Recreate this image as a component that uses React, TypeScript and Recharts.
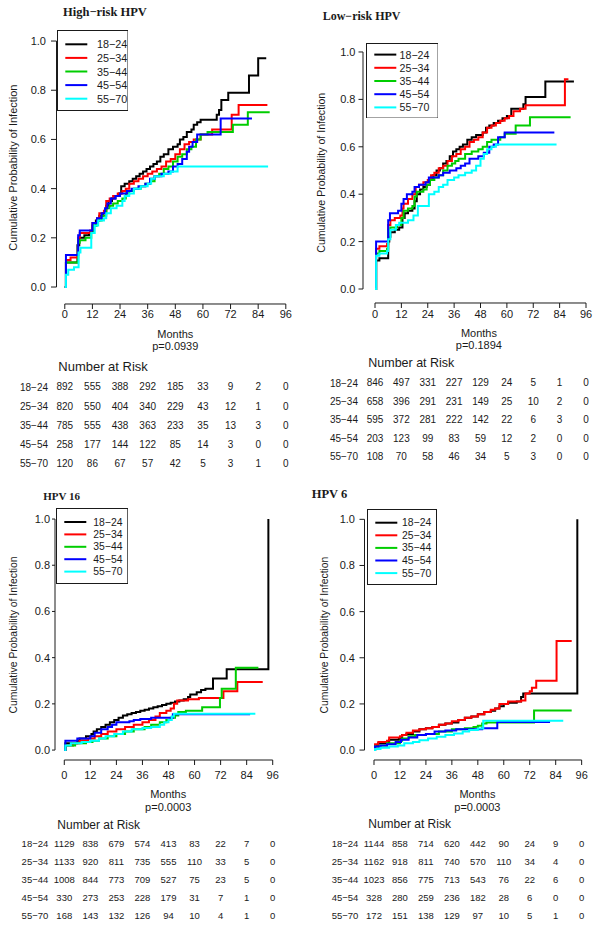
import { Legend, Line, LineChart, ReferenceLine, XAxis, YAxis } from "recharts";

type Pt = [number, number];

const ink = "#1a1a1a";
const ageGroups = ["18−24", "25−34", "35−44", "45−54", "55−70"];
const groupColors = ["#000000", "#ff0000", "#00cd00", "#0000ff", "#00ffff"];
const monthTicks = [0, 12, 24, 36, 48, 60, 72, 84, 96];
const probTicks = [0, 0.2, 0.4, 0.6, 0.8, 1];

// High-risk HPV
const highRisk1824: Pt[] = [[0, 0], [0.5, 0.1], [5.5, 0.17], [6.3, 0.2], [8.5, 0.21], [10.5, 0.22], [12, 0.25], [13.5, 0.27], [15, 0.29], [16.5, 0.3], [18, 0.33], [19, 0.35], [20.5, 0.36], [22, 0.37], [23.5, 0.38], [24.5, 0.41], [26, 0.42], [28, 0.43], [29.5, 0.44], [31, 0.45], [32.5, 0.46], [34, 0.47], [35.5, 0.48], [37, 0.49], [38.5, 0.5], [40, 0.51], [41.5, 0.53], [43, 0.54], [45, 0.56], [47, 0.57], [49, 0.58], [50, 0.6], [51.5, 0.61], [53, 0.63], [55, 0.64], [56, 0.66], [57.5, 0.67], [59, 0.68], [66, 0.7], [67, 0.72], [68, 0.76], [71, 0.79], [80, 0.86], [84, 0.93], [87.5, 0.93]];
const highRisk2534: Pt[] = [[0, 0], [0.5, 0.11], [2.5, 0.12], [5.8, 0.2], [6.5, 0.22], [11, 0.23], [12, 0.26], [14, 0.28], [15, 0.3], [17, 0.31], [18, 0.35], [19.5, 0.36], [21, 0.37], [23, 0.38], [25, 0.39], [26.5, 0.4], [28, 0.42], [30, 0.43], [32, 0.44], [34, 0.45], [36, 0.46], [38, 0.47], [40, 0.48], [42, 0.49], [44, 0.51], [46, 0.52], [48, 0.54], [50, 0.56], [52, 0.58], [54, 0.59], [56, 0.6], [59, 0.62], [64, 0.64], [72.5, 0.7], [75.5, 0.74], [88, 0.74]];
const highRisk3544: Pt[] = [[0, 0], [0.5, 0.1], [5.8, 0.18], [6.5, 0.19], [9, 0.2], [11.5, 0.22], [12.5, 0.25], [14, 0.27], [16, 0.29], [18, 0.32], [19.5, 0.33], [21, 0.34], [23, 0.35], [25, 0.36], [26.5, 0.38], [28, 0.39], [30, 0.4], [33, 0.41], [35, 0.42], [37, 0.43], [39, 0.45], [41, 0.46], [43, 0.48], [45, 0.49], [47, 0.51], [49, 0.53], [51, 0.54], [53, 0.56], [55, 0.57], [57, 0.6], [59, 0.62], [62, 0.63], [73, 0.66], [79.5, 0.71], [89, 0.71]];
const highRisk4554: Pt[] = [[0, 0], [0.5, 0.13], [5.8, 0.21], [6.5, 0.23], [11.5, 0.23], [12, 0.26], [14, 0.28], [16, 0.3], [17.5, 0.32], [18.5, 0.34], [20, 0.36], [22, 0.37], [24, 0.38], [27, 0.39], [29, 0.4], [32, 0.41], [35, 0.42], [37, 0.44], [39, 0.45], [42, 0.46], [45, 0.47], [47, 0.49], [49, 0.5], [51, 0.52], [53, 0.55], [54, 0.57], [55.5, 0.59], [57.5, 0.62], [67.7, 0.685], [81.3, 0.685]];
const highRisk5570: Pt[] = [[0, 0], [0.5, 0.05], [1.5, 0.07], [4, 0.08], [6, 0.14], [6.8, 0.16], [11.5, 0.22], [13, 0.25], [14.5, 0.27], [17, 0.28], [18, 0.3], [20, 0.32], [22.5, 0.33], [25, 0.35], [26, 0.37], [28, 0.38], [30, 0.4], [33, 0.41], [36, 0.42], [37.5, 0.44], [39, 0.45], [43, 0.46], [46, 0.47], [49, 0.49], [88.3, 0.49]];
const highRiskAtRisk = [
  [892, 555, 388, 292, 185, 33, 9, 2, 0],
  [820, 550, 404, 340, 229, 43, 12, 1, 0],
  [785, 555, 438, 363, 233, 35, 13, 3, 0],
  [258, 177, 144, 122, 85, 14, 3, 0, 0],
  [120, 86, 67, 57, 42, 5, 3, 1, 0],
];

// Low-risk HPV
const lowRisk1824: Pt[] = [[0, 0], [0.5, 0.12], [2, 0.13], [6, 0.2], [6.5, 0.22], [7, 0.24], [9, 0.25], [11, 0.26], [12.5, 0.3], [13.5, 0.32], [15, 0.33], [17, 0.34], [18, 0.37], [19, 0.4], [20.5, 0.42], [22, 0.43], [23.5, 0.44], [25, 0.46], [26.5, 0.48], [28, 0.5], [29.5, 0.51], [31, 0.53], [32.5, 0.54], [34, 0.56], [35.5, 0.58], [37, 0.59], [38.5, 0.6], [40, 0.61], [42, 0.63], [44, 0.64], [46, 0.65], [49, 0.66], [50.5, 0.68], [52, 0.69], [54, 0.7], [56, 0.71], [58, 0.72], [60, 0.73], [62, 0.76], [65, 0.76], [67.5, 0.78], [68.5, 0.81], [77.5, 0.875], [90.5, 0.875]];
const lowRisk2534: Pt[] = [[0, 0], [0.5, 0.17], [2, 0.18], [5.5, 0.19], [6, 0.27], [7, 0.29], [9, 0.3], [11.5, 0.31], [12.5, 0.34], [13, 0.36], [15, 0.38], [17, 0.4], [18.5, 0.43], [20, 0.44], [22, 0.45], [24, 0.46], [25.5, 0.48], [27, 0.49], [29, 0.51], [31, 0.52], [33, 0.54], [35, 0.56], [37, 0.57], [39, 0.59], [41, 0.6], [43, 0.62], [45, 0.63], [47, 0.64], [49, 0.66], [51, 0.68], [53, 0.69], [55, 0.7], [57, 0.71], [59, 0.72], [61, 0.73], [63, 0.75], [66, 0.76], [68.5, 0.775], [86.4, 0.885], [88, 0.885]];
const lowRisk3544: Pt[] = [[0, 0], [0.5, 0.15], [2, 0.16], [5.5, 0.17], [6, 0.25], [7, 0.26], [10, 0.27], [12, 0.3], [13, 0.33], [15, 0.34], [17, 0.35], [18, 0.39], [19, 0.41], [22, 0.42], [23.5, 0.44], [25, 0.46], [27, 0.47], [29, 0.48], [31, 0.5], [33, 0.52], [35, 0.53], [36.5, 0.54], [38, 0.55], [41, 0.57], [44, 0.58], [47, 0.59], [49, 0.6], [51, 0.62], [53, 0.63], [57, 0.64], [59, 0.655], [64, 0.69], [70.5, 0.725], [89, 0.725]];
const lowRisk4554: Pt[] = [[0, 0], [0.5, 0.2], [6, 0.29], [6.8, 0.32], [10.5, 0.33], [12, 0.36], [13, 0.38], [14.5, 0.4], [17, 0.41], [18, 0.43], [20, 0.44], [23, 0.45], [24.5, 0.47], [29, 0.48], [31, 0.49], [34, 0.5], [37, 0.51], [39, 0.52], [41, 0.53], [43, 0.55], [47, 0.56], [49.5, 0.575], [52, 0.6], [54, 0.61], [56, 0.64], [59, 0.66], [81.6, 0.66]];
const lowRisk5570: Pt[] = [[0, 0], [0.5, 0.14], [2, 0.15], [5.5, 0.16], [6, 0.21], [7, 0.25], [9.5, 0.27], [11, 0.28], [15, 0.29], [17.5, 0.31], [19.5, 0.35], [24.5, 0.4], [27, 0.41], [29, 0.43], [31, 0.44], [33, 0.46], [36, 0.47], [38, 0.48], [41, 0.49], [44, 0.5], [46, 0.52], [48, 0.55], [49.5, 0.57], [51, 0.59], [53, 0.6], [55, 0.61], [82.6, 0.61]];
const lowRiskAtRisk = [
  [846, 497, 331, 227, 129, 24, 5, 1, 0],
  [658, 396, 291, 231, 149, 25, 10, 2, 0],
  [595, 372, 281, 222, 142, 22, 6, 3, 0],
  [203, 123, 99, 83, 59, 12, 2, 0, 0],
  [108, 70, 58, 46, 34, 5, 3, 0, 0],
];

// HPV 16
const hpv16_1824: Pt[] = [[0, 0], [0.5, 0.03], [6, 0.04], [7, 0.05], [10, 0.06], [12.5, 0.07], [13.5, 0.08], [15, 0.09], [17, 0.1], [19, 0.11], [21, 0.12], [23, 0.13], [25, 0.14], [27, 0.15], [29, 0.155], [31, 0.16], [33, 0.165], [35, 0.17], [37, 0.175], [39, 0.18], [41, 0.185], [43, 0.19], [45, 0.195], [47, 0.2], [49, 0.205], [51, 0.21], [53, 0.215], [55, 0.22], [57, 0.23], [58, 0.24], [61, 0.25], [63, 0.26], [65, 0.265], [68.5, 0.31], [74.8, 0.35], [94, 1]];
const hpv16_2534: Pt[] = [[0, 0], [0.5, 0.02], [4, 0.03], [7, 0.04], [11, 0.05], [14, 0.06], [17, 0.07], [20, 0.08], [24, 0.09], [28, 0.1], [32, 0.11], [36, 0.12], [39, 0.13], [42, 0.145], [44, 0.16], [47, 0.17], [49, 0.18], [50.5, 0.2], [52, 0.215], [57, 0.22], [62, 0.225], [73.3, 0.255], [79.7, 0.295], [91.4, 0.295]];
const hpv16_3544: Pt[] = [[0, 0], [0.5, 0.02], [5, 0.03], [10, 0.035], [13, 0.04], [16, 0.05], [20, 0.06], [24, 0.07], [28, 0.08], [32, 0.09], [37, 0.1], [40, 0.11], [44, 0.12], [47, 0.13], [49, 0.14], [51, 0.15], [52.5, 0.165], [56, 0.17], [63.5, 0.185], [71.7, 0.225], [72.5, 0.265], [79, 0.356], [89.4, 0.356]];
const hpv16_4554: Pt[] = [[0, 0], [0.5, 0.04], [6, 0.05], [12, 0.06], [14, 0.075], [17, 0.09], [20, 0.1], [22, 0.11], [24, 0.12], [30, 0.125], [32, 0.13], [35, 0.135], [40, 0.14], [50, 0.155], [85.6, 0.155]];
const hpv16_5570: Pt[] = [[0, 0], [0.5, 0.02], [3, 0.03], [8, 0.035], [12, 0.04], [16, 0.05], [19, 0.06], [23, 0.07], [27, 0.08], [31, 0.09], [36, 0.095], [40, 0.1], [44, 0.11], [46, 0.12], [48, 0.13], [49.5, 0.145], [50.5, 0.157], [88, 0.157]];
const hpv16AtRisk = [
  [1129, 838, 679, 574, 413, 83, 22, 7, 0],
  [1133, 920, 811, 735, 555, 110, 33, 5, 0],
  [1008, 844, 773, 709, 527, 75, 23, 5, 0],
  [330, 273, 253, 228, 179, 31, 7, 1, 0],
  [168, 143, 132, 126, 94, 10, 4, 1, 0],
];

// HPV 6
const hpv6_1824: Pt[] = [[0, 0], [0.5, 0.02], [2, 0.03], [6, 0.035], [7, 0.045], [11.5, 0.05], [13, 0.065], [15, 0.07], [18, 0.08], [21, 0.09], [24, 0.095], [27, 0.1], [30, 0.11], [33, 0.115], [36, 0.12], [39, 0.13], [42, 0.14], [45, 0.145], [48, 0.155], [51, 0.165], [54, 0.17], [56, 0.18], [58, 0.19], [60, 0.2], [62, 0.205], [66, 0.21], [68, 0.23], [69, 0.245], [94, 1]];
const hpv6_2534: Pt[] = [[0, 0], [0.5, 0.025], [2, 0.035], [6, 0.04], [7, 0.055], [12, 0.06], [13, 0.065], [15, 0.075], [18, 0.085], [21, 0.09], [24, 0.095], [27, 0.1], [30, 0.11], [33, 0.115], [36, 0.125], [39, 0.13], [42, 0.14], [45, 0.145], [48, 0.155], [51, 0.165], [54, 0.175], [56, 0.18], [58, 0.2], [62, 0.21], [68, 0.215], [70, 0.245], [72, 0.255], [73, 0.27], [75, 0.3], [84.4, 0.473], [91.4, 0.473]];
const hpv6_3544: Pt[] = [[0, 0], [0.5, 0.015], [3, 0.02], [6, 0.03], [12, 0.04], [13, 0.05], [16, 0.06], [19, 0.065], [24, 0.07], [30, 0.08], [36, 0.09], [42, 0.095], [46, 0.1], [48, 0.105], [50, 0.115], [52, 0.12], [74, 0.172], [91.4, 0.172]];
const hpv6_4554: Pt[] = [[0, 0], [0.5, 0.015], [3, 0.02], [6, 0.025], [10, 0.035], [12.5, 0.045], [16, 0.055], [20, 0.065], [24, 0.07], [28, 0.08], [33, 0.085], [38, 0.09], [50, 0.095], [57, 0.122], [81.4, 0.122]];
const hpv6_5570: Pt[] = [[0, 0], [0.5, 0.005], [3, 0.01], [7, 0.015], [11, 0.02], [14, 0.03], [18, 0.035], [21, 0.043], [25, 0.05], [29, 0.058], [33, 0.065], [37, 0.072], [41, 0.08], [44, 0.087], [48, 0.094], [50.5, 0.127], [87.5, 0.127]];
const hpv6AtRisk = [
  [1144, 858, 714, 620, 442, 90, 24, 9, 0],
  [1162, 918, 811, 740, 570, 110, 34, 4, 0],
  [1023, 856, 775, 713, 543, 76, 22, 6, 0],
  [328, 280, 259, 236, 182, 28, 6, 0, 0],
  [172, 151, 138, 129, 97, 10, 5, 1, 0],
];

type LegendCfg = {
  left: number;
  top: number;
  width: number;
  height: number;
  firstRow: number;
  rowGap: number;
  textX: number;
  fontSize: number;
};

type PanelCfg = {
  title: string;
  titleX: number;
  titleY: number;
  titleSize: number;
  pValue: string;
  series: Pt[][];
  atRisk: number[][];
  left: number;
  top: number;
  width: number;
  plotLeft: number;
  plotTop: number;
  plotW: number;
  plotH: number;
  xDomain: [number, number];
  yDomain: [number, number];
  axisH: number;
  rowH: number;
  xTickMargin: number;
  yTickSize: number;
  yTickMargin: number;
  yLabelX: number;
  yLabelSize: number;
  monthsDy: number;
  pDy: number;
  narDy: number;
  narDx: number;
  narSize: number;
  tableSize: number;
  rowLabelGap: number;
  legend: LegendCfg;
};

const panels: PanelCfg[] = [
  {
    title: "High−risk HPV",
    titleX: 63,
    titleY: 12.5,
    titleSize: 12.5,
    pValue: "p=0.0939",
    series: [highRisk1824, highRisk2534, highRisk3544, highRisk4554, highRisk5570],
    atRisk: highRiskAtRisk,
    left: 0,
    top: 0,
    width: 300,
    plotLeft: 56.5,
    plotTop: 31.2,
    plotW: 237.6,
    plotH: 272.8,
    xDomain: [-3.6, 99.6],
    yDomain: [-0.069, 1.04],
    axisH: 73.4,
    rowH: 19.2,
    xTickMargin: 1,
    yTickSize: 5.5,
    yTickMargin: 5,
    yLabelX: 13.5,
    yLabelSize: 11,
    monthsDy: 30,
    pDy: 42,
    narDy: 62.7,
    narDx: 1.8,
    narSize: 13,
    tableSize: 10,
    rowLabelGap: 8.5,
    legend: { left: 56.7, top: 30, width: 71.5, height: 81, firstRow: 14.3, rowGap: 13.6, textX: 40, fontSize: 10.8 },
  },
  {
    title: "Low−risk HPV",
    titleX: 322.7,
    titleY: 16,
    titleSize: 12,
    pValue: "p=0.1894",
    series: [lowRisk1824, lowRisk2534, lowRisk3544, lowRisk4554, lowRisk5570],
    atRisk: lowRiskAtRisk,
    left: 300,
    top: 0,
    width: 302,
    plotLeft: 63,
    plotTop: 42.5,
    plotW: 231.8,
    plotH: 260.5,
    xDomain: [-5.46, 100],
    yDomain: [-0.059, 1.04],
    axisH: 70.8,
    rowH: 18.4,
    xTickMargin: 2,
    yTickSize: 4.5,
    yTickMargin: 3,
    yLabelX: 21,
    yLabelSize: 10.6,
    monthsDy: 30.3,
    pDy: 42,
    narDy: 60.3,
    narDx: 5.3,
    narSize: 12.5,
    tableSize: 10,
    rowLabelGap: 5,
    legend: { left: 65.7, top: 42.7, width: 72.6, height: 75.6, firstRow: 11.6, rowGap: 13.2, textX: 33.6, fontSize: 10.6 },
  },
  {
    title: "HPV 16",
    titleX: 43.3,
    titleY: 496.5,
    titleSize: 11,
    pValue: "p=0.0003",
    series: [hpv16_1824, hpv16_2534, hpv16_3544, hpv16_4554, hpv16_5570],
    atRisk: hpv16AtRisk,
    left: 0,
    top: 480,
    width: 300,
    plotLeft: 55,
    plotTop: 29.8,
    plotW: 226.4,
    plotH: 250.2,
    xDomain: [-4.28, 100],
    yDomain: [-0.043, 1.04],
    axisH: 75,
    rowH: 18,
    xTickMargin: 6,
    yTickSize: 3,
    yTickMargin: 2,
    yLabelX: 14,
    yLabelSize: 10.4,
    monthsDy: 34,
    pDy: 47,
    narDy: 65,
    narDx: 2.3,
    narSize: 12,
    tableSize: 9.5,
    rowLabelGap: 6.7,
    legend: { left: 56, top: 28.3, width: 72.3, height: 76, firstRow: 14, rowGap: 12.4, textX: 37.3, fontSize: 10.4 },
  },
  {
    title: "HPV 6",
    titleX: 311.7,
    titleY: 494,
    titleSize: 12.5,
    pValue: "p=0.0003",
    series: [hpv6_1824, hpv6_2534, hpv6_3544, hpv6_4554, hpv6_5570],
    atRisk: hpv6AtRisk,
    left: 300,
    top: 480,
    width: 302,
    plotLeft: 64.5,
    plotTop: 30.1,
    plotW: 225.8,
    plotH: 249.9,
    xDomain: [-4.39, 100],
    yDomain: [-0.043, 1.04],
    axisH: 74.3,
    rowH: 18,
    xTickMargin: 6,
    yTickSize: 5,
    yTickMargin: 4.5,
    yLabelX: 25,
    yLabelSize: 10.4,
    monthsDy: 34,
    pDy: 47,
    narDy: 64,
    narDx: 3.8,
    narSize: 12,
    tableSize: 9.5,
    rowLabelGap: 6.2,
    legend: { left: 66.7, top: 29, width: 70, height: 76, firstRow: 13.7, rowGap: 12.6, textX: 35, fontSize: 10.4 },
  },
];

const toPoints = (s: Pt[]) => s.map(([t, p]) => ({ t, p }));

function LegendBox({ lg }: { lg: LegendCfg }) {
  return (
    <svg width={lg.width} height={lg.height} style={{ display: "block" }}>
      <rect x={0.5} y={0.5} width={lg.width - 1} height={lg.height - 1} fill="#fff" stroke={ink} />
      {ageGroups.map((g, i) => {
        const y = lg.firstRow + i * lg.rowGap;
        return (
          <g key={g}>
            <line x1={8.3} x2={30.3} y1={y} y2={y} stroke={groupColors[i]} strokeWidth={2} />
            <text x={lg.textX} y={y} dominantBaseline="central" fontSize={lg.fontSize} fill={ink}>
              {g}
            </text>
          </g>
        );
      })}
    </svg>
  );
}

function Panel({ cfg }: { cfg: PanelCfg }) {
  const chartH = cfg.plotTop + cfg.plotH + cfg.axisH + cfg.atRisk.length * cfg.rowH + 2;
  const [xMin] = cfg.xDomain;
  const [yMin] = cfg.yDomain;
  const firstMonth = monthTicks[0];
  const lastMonth = monthTicks[monthTicks.length - 1];

  return (
    <>
      <div
        style={{
          position: "absolute",
          left: cfg.titleX,
          top: cfg.titleY - cfg.titleSize / 2,
          fontFamily: "'Liberation Serif', 'Times New Roman', serif",
          fontWeight: "bold",
          fontSize: cfg.titleSize,
          lineHeight: 1,
          whiteSpace: "nowrap",
          color: ink,
        }}
      >
        {cfg.title}
      </div>
      <div style={{ position: "absolute", left: cfg.left, top: cfg.top }}>
        <LineChart
          width={cfg.width}
          height={chartH}
          margin={{ top: cfg.plotTop, right: cfg.width - cfg.plotLeft - cfg.plotW, bottom: 2, left: 0 }}
        >
          <XAxis
            type="number"
            dataKey="t"
            domain={cfg.xDomain}
            allowDataOverflow
            ticks={monthTicks}
            interval={0}
            axisLine={false}
            tickLine={{ stroke: ink }}
            tickSize={5}
            tickMargin={cfg.xTickMargin}
            height={cfg.axisH}
            tick={{ fontSize: 11, fill: ink }}
            label={(props: any) => {
              const vb = props.viewBox ?? props;
              const cx = vb.x + vb.width / 2;
              return (
                <g>
                  <text x={cx} y={vb.y + cfg.monthsDy} textAnchor="middle" dominantBaseline="central" fontSize={11} fill={ink}>
                    Months
                  </text>
                  <text x={cx} y={vb.y + cfg.pDy} textAnchor="middle" dominantBaseline="central" fontSize={11} fill={ink}>
                    {cfg.pValue}
                  </text>
                  <text x={vb.x + cfg.narDx} y={vb.y + cfg.narDy} dominantBaseline="central" fontSize={cfg.narSize} fill={ink}>
                    Number at Risk
                  </text>
                </g>
              );
            }}
          />
          {cfg.atRisk.map((row, i) => (
            <XAxis
              key={`risk${i}`}
              xAxisId={`risk${i}`}
              type="number"
              dataKey="t"
              domain={cfg.xDomain}
              allowDataOverflow
              ticks={monthTicks}
              interval={0}
              axisLine={false}
              tickLine={false}
              tickSize={0}
              tickMargin={cfg.rowH / 2 - 0.36 * cfg.tableSize}
              height={cfg.rowH}
              tick={{ fontSize: cfg.tableSize, fill: ink }}
              tickFormatter={(v: number) => String(row[monthTicks.indexOf(v)])}
              label={{ value: ageGroups[i], position: "left", offset: cfg.rowLabelGap, fontSize: cfg.tableSize, fill: ink }}
            />
          ))}
          <YAxis
            type="number"
            domain={cfg.yDomain}
            allowDataOverflow
            ticks={probTicks}
            interval={0}
            width={cfg.plotLeft}
            axisLine={false}
            tickLine={{ stroke: ink }}
            tickSize={cfg.yTickSize}
            tickMargin={cfg.yTickMargin}
            tick={{ fontSize: 11, fill: ink }}
            tickFormatter={(v: number) => v.toFixed(1)}
            label={(props: any) => {
              const vb = props.viewBox ?? props;
              const cy = vb.y + vb.height / 2;
              return (
                <text
                  x={cfg.yLabelX}
                  y={cy}
                  transform={`rotate(-90 ${cfg.yLabelX} ${cy})`}
                  textAnchor="middle"
                  dominantBaseline="central"
                  fontSize={cfg.yLabelSize}
                  fill={ink}
                >
                  Cumulative Probability of Infection
                </text>
              );
            }}
          />
          <ReferenceLine
            ifOverflow="visible"
            segment={[
              { x: firstMonth, y: yMin },
              { x: lastMonth, y: yMin },
            ]}
            stroke={ink}
            strokeWidth={1}
          />
          <ReferenceLine
            ifOverflow="visible"
            segment={[
              { x: xMin, y: probTicks[0] },
              { x: xMin, y: probTicks[probTicks.length - 1] },
            ]}
            stroke={ink}
            strokeWidth={1}
          />
          {cfg.series.map((s, i) => (
            <Line
              key={ageGroups[i]}
              name={ageGroups[i]}
              data={toPoints(s)}
              dataKey="p"
              type="stepAfter"
              stroke={groupColors[i]}
              strokeWidth={2}
              dot={false}
              activeDot={false}
              isAnimationActive={false}
            />
          ))}
          <Legend
            layout="vertical"
            align="center"
            verticalAlign="middle"
            wrapperStyle={{ left: cfg.legend.left, top: cfg.legend.top, width: cfg.legend.width, height: cfg.legend.height }}
            content={() => <LegendBox lg={cfg.legend} />}
          />
        </LineChart>
      </div>
    </>
  );
}

export default function App() {
  return (
    <div
      style={{
        position: "absolute",
        left: 0,
        top: 0,
        width: 602,
        height: 928,
        overflow: "hidden",
        background: "#fff",
        fontFamily: "'Liberation Sans', Arial, sans-serif",
      }}
    >
      {panels.map((cfg) => (
        <Panel key={cfg.title} cfg={cfg} />
      ))}
    </div>
  );
}
